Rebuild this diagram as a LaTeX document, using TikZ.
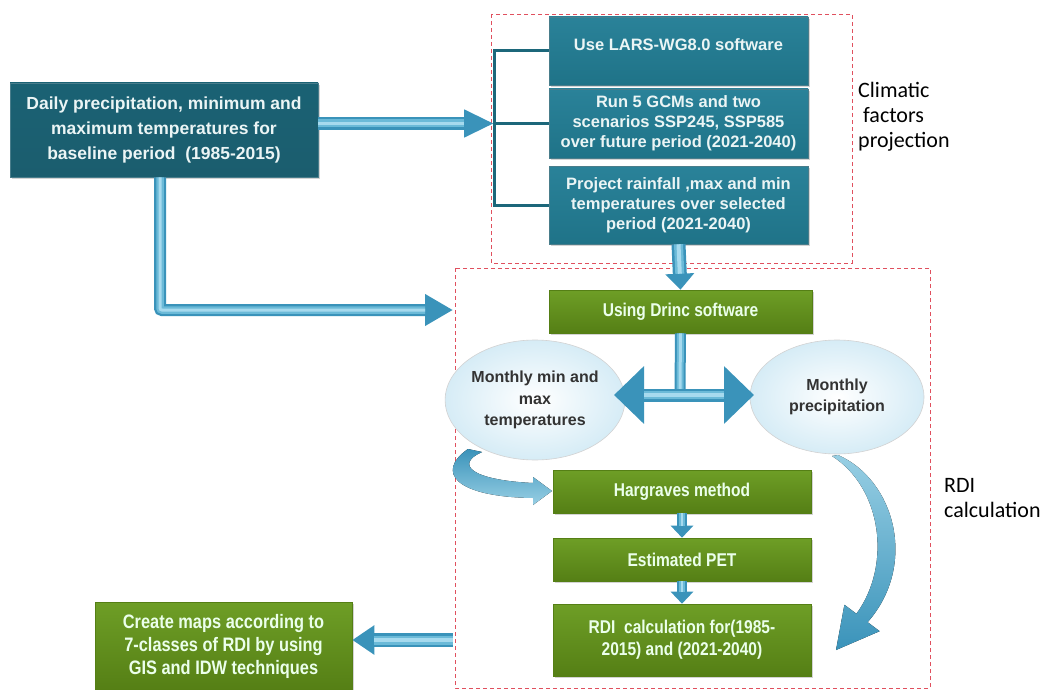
\documentclass[tikz,border=0pt]{standalone}
\usepackage{fontspec}
\setmainfont{Liberation Sans}
\newfontfamily\narrowf[FakeStretch=0.84]{Liberation Sans}
\newfontfamily\labf{Carlito}
\usetikzlibrary{arrows.meta,shapes.geometric,shadows,calc}
\definecolor{tealD}{HTML}{1B5D6E}
\definecolor{tealM}{HTML}{1F7388}
\definecolor{tealL}{HTML}{2A8299}
\definecolor{grnL}{HTML}{6E9E26}
\definecolor{grnD}{HTML}{557F15}
\definecolor{arrB}{HTML}{6BBAD8}
\definecolor{arrD}{HTML}{3A93BA}
\definecolor{arrL}{HTML}{A6DAEE}
\definecolor{dashR}{HTML}{E0505E}
\definecolor{elB}{HTML}{D6ECF6}
\definecolor{txtG}{HTML}{333333}
\begin{document}
\begin{tikzpicture}[x=1pt,y=-1pt,
  boxshadow/.style={drop shadow={opacity=0.35,shadow xshift=2pt,shadow yshift=-2pt}},
  tealbox/.style={rectangle,draw=tealD!80,line width=0.6pt,top color=tealL,bottom color=tealM,boxshadow,
     text=white!92!teal,font=\fontsize{16.5}{20}\selectfont\bfseries,align=center,inner sep=2pt},
  darkbox/.style={tealbox,top color=tealM!85!black,bottom color=tealD},
  grnbox/.style={rectangle,draw=grnD,line width=0.6pt,top color=grnL,bottom color=grnD,boxshadow,
     text=white!92!green,font=\narrowf\fontsize{18.5}{22}\selectfont\bfseries,align=center,inner sep=2pt},
  ovalbox/.style={ellipse,draw=gray!35,line width=0.6pt,inner color=white,outer color=elB,
     text=txtG,font=\fontsize{16}{21.5}\selectfont\bfseries,align=center,inner sep=0pt},
  dashframe/.style={draw=dashR,dashed,dash pattern=on 4pt off 3pt,line width=0.8pt},
  tube/.style n args={5}{draw=arrD,line width=#1,-{Triangle[width=#4,length=#5,fill=arrD,color=arrD]},
     postaction={draw=arrB,line width=#2,-,shorten >=#5},
     postaction={draw=arrL,line width=#3,-,shorten >=#5}},
  bracketline/.style={draw=tealM!90!black,line width=3pt},
  sidelabel/.style={font=\labf\fontsize{22}{25}\selectfont,align=left,anchor=north west,text=black,inner sep=0pt}
]
\useasboundingbox (0,0) rectangle (1044,690);

% dashed frames
\draw[dashframe] (491,14) rectangle (852,263);
\draw[dashframe] (455,268) rectangle (930,688);

% left input box
\node[darkbox,minimum width=308pt,minimum height=94pt,font=\fontsize{17.5}{25}\selectfont\bfseries] (daily) at (164,130)
  {Daily precipitation, minimum and\\maximum temperatures for\\baseline period\ \ (1985-2015)};

% teal boxes
\node[tealbox,minimum width=259pt,minimum height=68pt] (box1) at (678.5,51) {};
\node[font=\fontsize{16.5}{20}\selectfont\bfseries,text=white!92!teal] (box1t) at (678.5,45) {Use LARS-WG8.0 software};
\node[tealbox,minimum width=259pt,minimum height=69pt] (box2) at (678.5,123.5)
  {Run 5 GCMs and two\\scenarios SSP245, SSP585\\over future period (2021-2040)};
\node[tealbox,minimum width=259pt,minimum height=78pt] (box3) at (678.5,205)
  {Project rainfall ,max and min\\temperatures over selected\\period (2021-2040)};

% bracket
\coordinate (bt) at (494,51);
\coordinate (bb) at (494,205);
\coordinate (brk) at (494,123.5);
\draw[bracketline] (box1.west) -- (bt) -- (bb) -- (box3.west);
\draw[bracketline] (brk) -- (box2.west);

\node[sidelabel] (clim) at (858,82) {Climatic\\\ factors\\projection};

% green boxes
\node[grnbox,minimum width=263pt,minimum height=43pt] (drinc) at (680.5,311.5) {Using Drinc software};
\node[grnbox,minimum width=258pt,minimum height=43pt] (harg) at (682,491.5) {Hargraves method};
\node[grnbox,minimum width=258pt,minimum height=43pt] (pet) at (682,559.5) {Estimated PET};
\node[grnbox,minimum width=258pt,minimum height=72pt] (rdi) at (682,640) {RDI\ \ calculation for(1985-\\2015) and (2021-2040)};
\node[grnbox,minimum width=257pt,minimum height=88pt,font=\narrowf\fontsize{19.5}{23}\selectfont\bfseries] (create) at (223.5,646)
  {Create maps\ according to\\7-classes of RDI by using\\GIS and IDW techniques};

% ellipses
\node[ovalbox,minimum width=160pt,minimum height=120pt] (ovL) at (535,400) {Monthly min and\\max\\temperatures};
\node[ovalbox,minimum width=174pt,minimum height=114pt] (ovR) at (837,397) {Monthly\\precipitation};

\node[sidelabel] (rdil) at (944,478) {RDI\\calculation};

% connectors
\draw[tube={13pt}{8pt}{3.5pt}{26pt}{30pt}] (daily.east |- brk) -- (brk);
\coordinate (inB) at (453,310);
\draw[tube={12pt}{7.5pt}{3pt}{30pt}{28pt},rounded corners=2pt] ($(daily.south)+(-4,0)$) |- (inB);
\draw[tube={14pt}{9pt}{4pt}{28pt}{16pt}] (box3.south) -- (drinc.north);
\coordinate (dblC) at (680,395);
\coordinate (dblL) at (614,395);
\coordinate (dblR) at (754,395);
\draw[draw=arrD,line width=11pt] (drinc.south) -- ($(dblC)+(0,-5)$);
\draw[draw=arrB,line width=7pt] (drinc.south) -- ($(dblC)+(0,-6)$);
\draw[draw=arrL,line width=3pt] (drinc.south) -- ($(dblC)+(0,-6)$);
\draw[draw=arrD,line width=13pt,{Triangle[width=56pt,length=30pt,fill=arrD,color=arrD]}-{Triangle[width=56pt,length=30pt,fill=arrD,color=arrD]},
  postaction={draw=arrB,line width=8pt,-,shorten >=30pt,shorten <=30pt},
  postaction={draw=arrL,line width=3.5pt,-,shorten >=30pt,shorten <=30pt}] (dblL) -- (dblR);
\draw[tube={10pt}{6pt}{2.5pt}{22pt}{12pt}] (harg.south) -- (pet.north);
\draw[tube={10pt}{6pt}{2.5pt}{22pt}{12pt}] (pet.south) -- (rdi.north);
\coordinate (outL) at (453,640);
\draw[tube={14pt}{9pt}{4pt}{28pt}{22pt}] (outL) -- (create.east |- outL);

% curved arrow from left ellipse to Hargraves
\fill[top color=arrD,bottom color=arrB!70]
  (482,452) .. controls (455,464) and (470,480) .. (533,483)
  -- (533,477) -- (552,491) -- (533,505) -- (533,498)
  .. controls (455,497) and (435,472) .. (468,449) -- cycle;

% curved arrow from right ellipse to RDI box
\fill[top color=arrB!70,bottom color=arrD]
  (838,455) .. controls (895,480) and (918,565) .. (867.6,622.2)
  -- (879.6,631.2) -- (836,650) -- (844.4,604.8) -- (856.4,613.8)
  .. controls (892,565) and (882,488) .. (832,456) -- cycle;
\end{tikzpicture}
\end{document}
